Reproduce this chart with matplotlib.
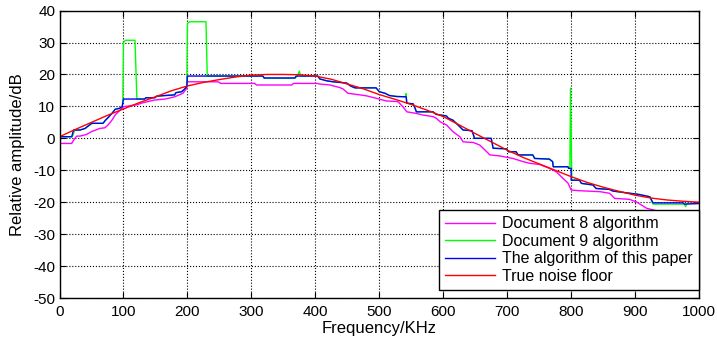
import numpy as np
import matplotlib
matplotlib.use('Agg')
import matplotlib.pyplot as plt

plt.rcParams['font.family'] = ['Liberation Sans', 'DejaVu Sans']
plt.rcParams['axes.unicode_minus'] = False

# True noise floor
red_x = [0, 25, 50, 75, 100, 125, 150, 175, 200, 225, 250, 275, 300, 325, 350, 375, 400, 425, 450, 475, 500,
         525, 550, 575, 600, 625, 650, 675, 700, 725, 750, 775, 800, 825, 850, 875, 900, 925, 950, 975, 1000]
red_y = [0.5, 2.8, 5.0, 7.2, 9.2, 11.2, 13.0, 14.9, 16.4, 17.5, 18.4, 19.2, 19.8, 20.0, 20.0, 19.9, 19.5, 18.5, 17.0, 15.5, 13.7,
         12.2, 10.6, 8.8, 6.8, 4.2, 1.5, -1.1, -3.7, -6.0, -8.0, -10.0, -12.0, -13.8, -15.3, -16.6, -17.8, -18.7, -19.3, -19.7, -20.0]

# The algorithm of this paper
blue_x = [0, 19, 22, 32, 40, 47, 50, 68, 72, 76, 82, 87, 94, 98, 100, 133, 135, 149, 152, 165, 180, 182, 191, 196, 199,
          200, 318, 320, 368, 370, 404, 407, 418, 428, 449, 455, 462, 495, 500, 509, 516, 527, 542, 543, 553, 556, 558,
          584, 589, 605, 608, 615, 623, 631, 645, 649, 675, 678, 699, 702, 714, 717, 740, 743, 766, 771, 772, 795, 796,
          800, 800, 813, 816, 834, 839, 860, 865, 907, 923, 928, 975, 977, 1000]
blue_y = [0.5, 0.5, 2.6, 2.6, 3.1, 4.2, 4.7, 4.7, 5.7, 6.5, 7.8, 9.1, 9.4, 9.9, 12.3, 12.3, 12.7, 12.7, 13.2, 13.4, 13.6, 14.3, 14.6, 15.5, 16.2,
          19.5, 19.5, 18.9, 18.9, 19.5, 19.5, 18.6, 18.0, 17.7, 17.3, 16.4, 15.8, 15.8, 14.6, 14.1, 13.4, 13.1, 13.0, 11.0, 10.8, 9.4, 8.3,
          8.3, 7.5, 7.0, 6.3, 5.7, 4.2, 2.6, 2.4, 0.0, 0.0, -3.1, -3.3, -4.2, -4.2, -5.2, -5.2, -6.3, -6.5, -7.3, -8.9, -8.9, -9.4,
          -9.4, -13.1, -13.1, -14.1, -14.6, -15.7, -16.0, -16.5, -17.6, -18.3, -20.2, -20.2, -20.6, -20.4]

# Document 9 algorithm
green_x = [0, 20, 24, 32, 40, 47, 52, 68, 72, 76, 82, 87, 94, 98, 99, 100, 103, 118, 121, 133, 135, 149, 152, 165, 180, 182, 191, 196, 199,
           200, 204, 229, 231, 318, 320, 368, 372, 375, 377, 404, 407, 418, 428, 449, 455, 462, 495, 500, 509, 516, 527, 541, 542, 543,
           553, 556, 558, 584, 589, 605, 608, 615, 623, 631, 645, 649, 675, 678, 699, 702, 714, 717, 740, 743, 766, 771, 772, 795, 796,
           798, 799, 801, 813, 816, 834, 839, 860, 865, 907, 923, 928, 951, 977, 979, 981, 1000]
green_y = [0.5, 0.5, 2.6, 2.6, 3.1, 4.2, 4.7, 4.7, 5.7, 6.5, 7.8, 9.1, 9.4, 9.9, 12.0, 30.0, 30.7, 30.7, 12.3, 12.3, 12.7, 12.7, 13.2, 13.4, 13.6, 14.3, 14.6, 15.5, 16.2,
           36.0, 36.5, 36.5, 19.5, 19.5, 18.8, 18.8, 19.5, 21.0, 19.5, 19.5, 18.6, 18.0, 17.7, 17.3, 16.4, 15.8, 15.8, 14.6, 14.1, 13.4, 13.1, 13.0, 14.0, 11.0,
           10.8, 9.4, 8.3, 8.3, 7.5, 7.0, 6.3, 5.7, 4.2, 2.6, 2.4, 0.0, 0.0, -3.1, -3.3, -4.2, -4.2, -5.2, -5.2, -6.3, -6.5, -7.3, -8.9, -8.9, -9.4,
           -9.4, 15.7, -13.1, -13.1, -14.1, -14.6, -15.7, -16.0, -16.5, -17.6, -18.3, -20.6, -20.6, -20.6, -21.4, -20.4, -20.4]

# Document 8 algorithm
mag_x = [0, 19, 24, 27, 32, 42, 50, 63, 71, 76, 82, 87, 92, 100, 121, 128, 138, 149, 165, 180, 193, 199,
         200, 248, 252, 305, 308, 363, 366, 402, 407, 423, 438, 443, 451, 470, 480, 496, 511, 529, 537, 543, 558, 568,
         584, 589, 595, 605, 615, 626, 631, 647, 657, 668, 673, 688, 709, 725, 735, 751, 766, 777, 787, 795, 800,
         813, 845, 860, 868, 891, 902, 918, 960, 1000]
mag_y = [-1.6, -1.6, 0.0, 0.7, 0.7, 1.2, 2.1, 3.1, 3.3, 4.2, 5.7, 7.3, 8.3, 9.9, 10.5, 11.0, 11.5, 12.0, 12.3, 13.0, 14.1, 15.7,
         17.7, 17.7, 17.2, 17.2, 16.7, 16.7, 17.2, 17.2, 17.0, 16.7, 15.9, 15.5, 14.1, 13.6, 13.3, 12.5, 11.7, 11.5, 9.9, 8.3, 7.8, 7.3,
         6.8, 6.3, 5.2, 4.2, 2.1, 0.5, -1.1, -1.3, -2.1, -4.2, -5.2, -5.5, -6.3, -7.3, -7.8, -8.2, -9.4, -10.5, -12.5, -14.0, -16.2,
         -16.4, -16.7, -17.2, -18.8, -19.1, -19.9, -21.9, -24.0, -26.0]

fig = plt.figure(figsize=(7.17, 3.41), dpi=100)
ax = fig.add_axes([0.083, 0.126, 0.892, 0.843])

ax.plot(mag_x, mag_y, color='#ff00ff', lw=1.0, label='Document 8 algorithm')
ax.plot(green_x, green_y, color='#00ff00', lw=1.0, label='Document 9 algorithm')
ax.plot(blue_x, blue_y, color='#0000ff', lw=1.0, label='The algorithm of this paper')
ax.plot(red_x, red_y, color='#ff0000', lw=1.0, label='True noise floor')

ax.set_xlim(0, 1000)
ax.set_ylim(-50, 40)
ax.set_xticks(np.arange(0, 1001, 100))
ax.set_yticks(np.arange(-50, 41, 10))
ax.grid(True, color='black', linestyle=':', linewidth=0.8)
ax.tick_params(direction='in', top=True, right=True, length=4, labelsize=11, width=0.8)
ax.tick_params(axis='x', pad=5)
ax.tick_params(axis='y', pad=3)
for s in ax.spines.values():
    s.set_linewidth(1.0)

ax.set_xlabel('Frequency/KHz', fontsize=12)
ax.set_ylabel('Relative amplitude/dB', fontsize=12)
ax.xaxis.set_label_coords(0.5, -0.08)
ax.yaxis.set_label_coords(-0.054, 0.5)

leg = ax.legend(loc='lower right', bbox_to_anchor=(1.0, 0.028), borderaxespad=0, fontsize=11.5,
                fancybox=False, edgecolor='black', framealpha=1, handlelength=3.1, handletextpad=0.45,
                labelspacing=0.15, borderpad=0.4)
leg.get_frame().set_linewidth(1.0)

fig.savefig('out.png', dpi=100)
